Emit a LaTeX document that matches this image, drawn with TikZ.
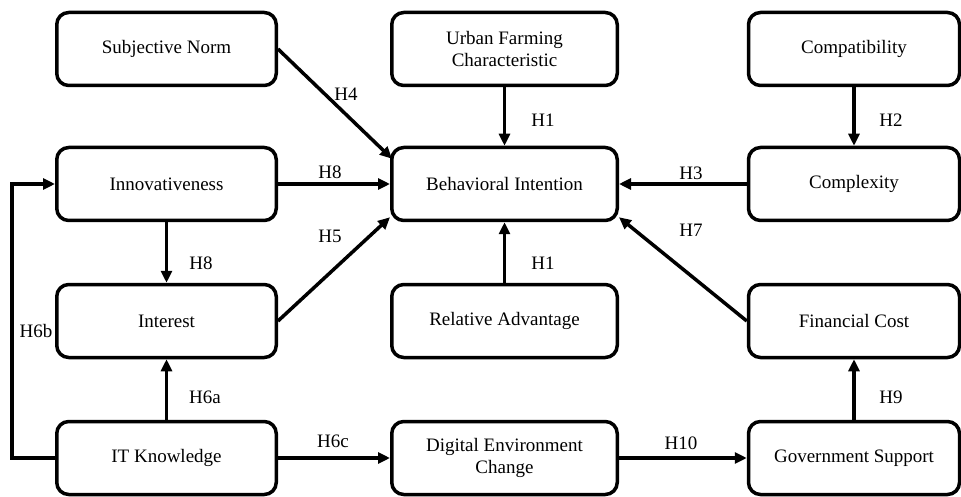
\documentclass[tikz,border=0pt]{standalone}
\usepackage{fontspec}
\setmainfont{Liberation Serif}
\usetikzlibrary{arrows.meta}
\begin{document}
\begin{tikzpicture}[x=1pt,y=-1pt,
  box/.style={draw, line width=3.5pt, rounded corners=12pt, minimum height=73pt, font=\fontsize{19}{21.5}\selectfont, align=center, inner sep=0pt},
  lbox/.style={box, minimum width=219.5pt},
  mbox/.style={box, minimum width=225.5pt},
  rbox/.style={box, minimum width=211pt},
  conn/.style={line width=3.5pt, -{Triangle[length=12pt,width=11pt]}},
  lbl/.style={font=\fontsize{19}{21.5}\selectfont, inner sep=0pt}
]
\useasboundingbox (0,0) rectangle (961,497);
% left column
\node[lbox] (sn)  at (166.5,49)  {Subjective Norm};
\node[lbox] (inn) at (166.5,184) {Innovativeness};
\node[lbox] (int) at (166.5,321) {Interest};
\node[lbox] (itk) at (166.5,458) {IT Knowledge};
% middle column
\node[mbox] (ufc) at (504.5,49)  {Urban Farming\\Characteristic};
\node[mbox] (bi)  at (504.5,184) {Behavioral Intention};
\node[mbox] (ra)  at (504.5,321) {Relative Advantage};
\node[mbox] (dec) at (504.5,458) {Digital Environment\\Change};
% right column
\node[rbox] (cmp) at (854,49)  {Compatibility};
\node[rbox] (cpx) at (854,184) {Complexity};
\node[rbox] (fc)  at (854,321) {Financial Cost};
\node[rbox] (gs)  at (854,458) {Government Support};
% connectors
\draw[conn] (sn.east) -- ([xshift=2pt,yshift=-13pt]bi.north west);
\draw[conn] (inn.east) -- (bi.west);
\draw[conn] (int.east) -- ([yshift=5pt]bi.south west);
\draw[conn] (inn.south) -- (int.north);
\draw[conn] (itk.north) -- (int.south);
\draw[conn] (itk.west) -- ++(-43,0) |- (inn.west);
\draw[conn] (itk.east) -- (dec.west);
\draw[conn] (dec.east) -- (gs.west);
\draw[conn] (gs.north) -- (fc.south);
\draw[conn] (fc.west) -- ([yshift=5pt]bi.south east);
\draw[conn] (cpx.west) -- (bi.east);
\draw[conn] (cmp.south) -- (cpx.north);
\draw[conn] (ufc.south) -- (bi.north);
\draw[conn] (ra.north) -- (bi.south);
% labels
\node[lbl] (h4)  at (346,94)  {H4};
\node[lbl] (h8a) at (330,172) {H8};
\node[lbl] (h5)  at (330,236) {H5};
\node[lbl] (h8b) at (201,263) {H8};
\node[lbl] (h6b) at (36,331)  {H6b};
\node[lbl] (h6a) at (205,397) {H6a};
\node[lbl] (h6c) at (333,441) {H6c};
\node[lbl] (h10) at (681,443) {H10};
\node[lbl] (h9)  at (891,397) {H9};
\node[lbl] (h7)  at (691,230) {H7};
\node[lbl] (h3)  at (691,173) {H3};
\node[lbl] (h2)  at (891,120) {H2};
\node[lbl] (h1a) at (543,120) {H1};
\node[lbl] (h1b) at (543,263) {H1};
\end{tikzpicture}
\end{document}
